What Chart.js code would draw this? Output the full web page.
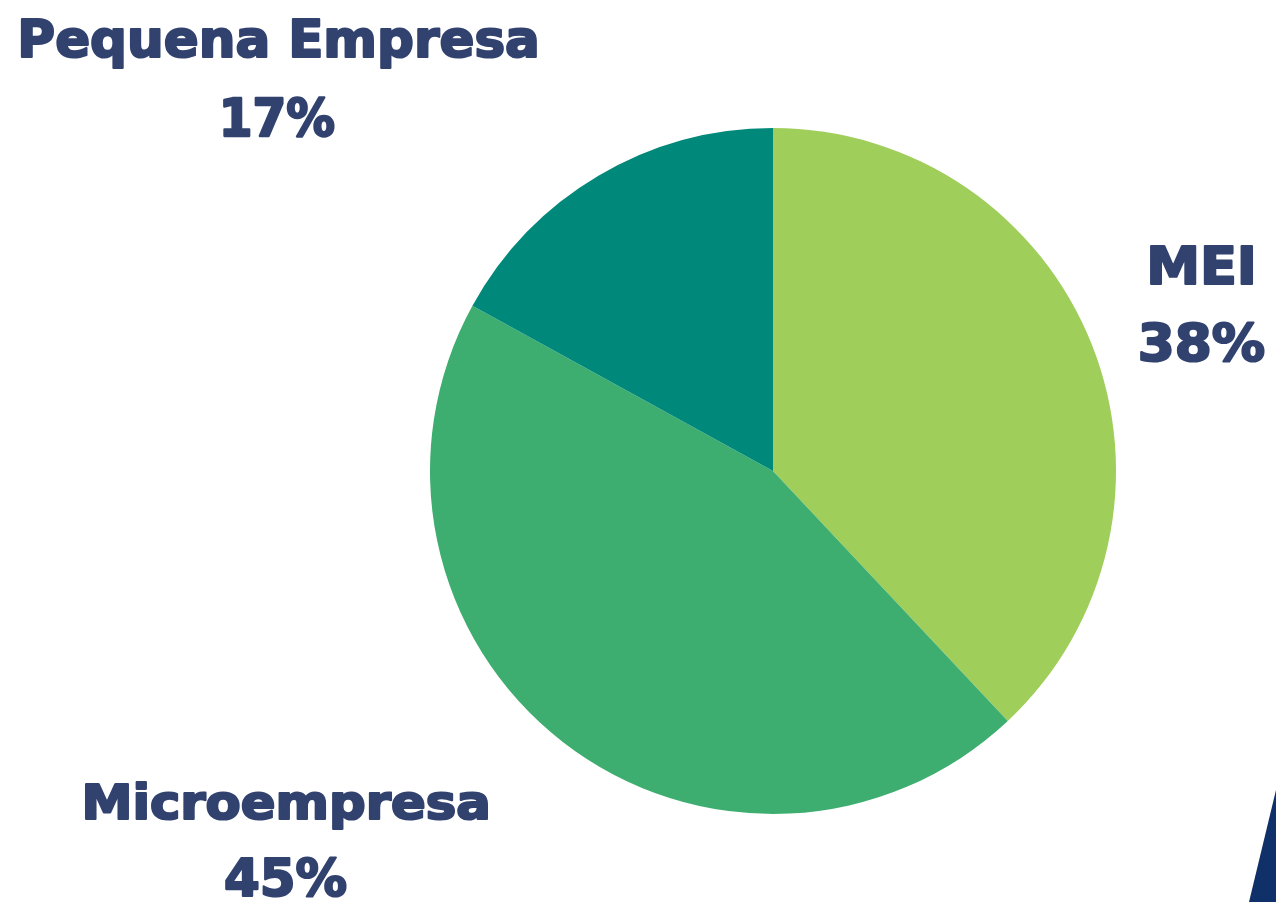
<!DOCTYPE html>
<html>
<head>
<meta charset="utf-8">
<script src="https://cdn.jsdelivr.net/npm/chart.js@4"></script>
<style>
  html,body{margin:0;padding:0;background:#fff;overflow:hidden;}
  #wrap{position:relative;width:1276px;height:902px;}
  #deco{position:absolute;left:1249px;top:790px;width:27px;height:112px;background:#0f3068;clip-path:polygon(100% 0,100% 100%,0 100%);}
</style>
</head>
<body>
<div id="wrap">
  <canvas id="c" width="1276" height="902"></canvas>
  <div id="deco"></div>
</div>
<script>
const categories = ["MEI", "Microempresa", "Pequena Empresa"];
const values = [38, 45, 17];
const valueLabels = ["38%", "45%", "17%"];
const colors = ["#9fce5b", "#3dae6f", "#00897a"];

// label boxes (layout only): [left, right, capTop, baseline] for name and value lines
const labelBoxes = [
  { name: [1151, 1252, 246, 284], value: [1141, 1264, 323, 361] },
  { name: [86, 487, 783, 819],    value: [226, 346, 858, 896] },
  { name: [22, 536, 19, 57],      value: [224, 334, 98, 136] }
];

function fitText(ctx, text, box) {
  const [l, r, top, base] = box;
  const size = 100;
  ctx.font = "bold " + size + "px 'DejaVu Sans'";
  const m = ctx.measureText(text);
  const w = m.actualBoundingBoxLeft + m.actualBoundingBoxRight;
  const asc = m.actualBoundingBoxAscent;
  const sy = (base - top) / asc;
  const sx = (r - l) / w;
  ctx.save();
  ctx.translate(l, base);
  ctx.scale(sx, sy);
  ctx.textBaseline = "alphabetic";
  ctx.textAlign = "left";
  ctx.lineJoin = "round";
  ctx.lineWidth = 2.2 / Math.min(sx, sy);
  ctx.fillText(text, m.actualBoundingBoxLeft, 0);
  ctx.strokeText(text, m.actualBoundingBoxLeft, 0);
  ctx.restore();
}

const labelPlugin = {
  id: "labels",
  afterDraw(chart) {
    const ctx = chart.ctx;
    ctx.save();
    ctx.fillStyle = "#32426f";
    ctx.strokeStyle = "#32426f";
    categories.forEach((c, i) => {
      fitText(ctx, c, labelBoxes[i].name);
      fitText(ctx, valueLabels[i], labelBoxes[i].value);
    });
    ctx.restore();
  }
};

new Chart(document.getElementById("c"), {
  type: "pie",
  data: {
    labels: categories,
    datasets: [{
      data: values,
      backgroundColor: colors,
      borderWidth: 0,
      hoverOffset: 0
    }]
  },
  options: {
    responsive: false,
    animation: false,
    layout: { padding: { left: 430, right: 160, top: 128, bottom: 88 } },
    plugins: { legend: { display: false }, tooltip: { enabled: false } }
  },
  plugins: [labelPlugin]
});
</script>
</body>
</html>
